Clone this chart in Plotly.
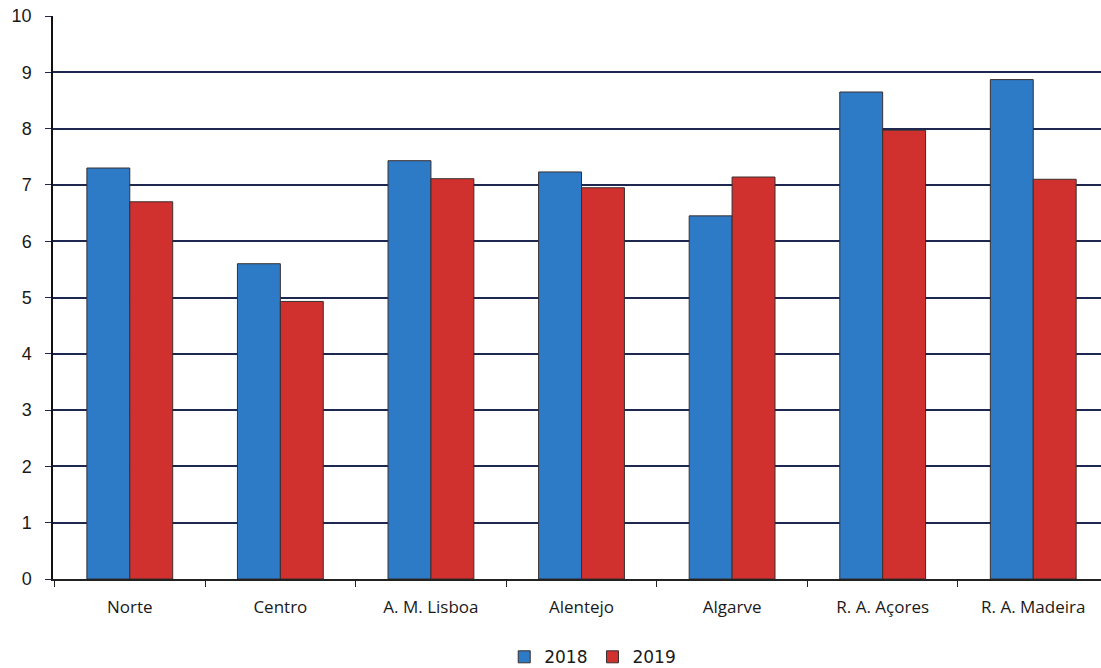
import plotly.graph_objects as go

regions = ["Norte", "Centro", "A. M. Lisboa", "Alentejo", "Algarve",
           "R. A. Açores", "R. A. Madeira"]
values_2018 = [7.3, 5.6, 7.43, 7.23, 6.45, 8.65, 8.87]
values_2019 = [6.7, 4.93, 7.11, 6.95, 7.14, 7.97, 7.1]
y_ticks = list(range(0, 11))

blue = "#2d7bc6"
red = "#d0302e"
edge = "#3a2e2e"
grid = "#1e2750"

fig = go.Figure()
fig.add_trace(go.Bar(x=regions, y=values_2018, name="2018",
                     marker=dict(color=blue, line=dict(color=edge, width=1))))
fig.add_trace(go.Bar(x=regions, y=values_2019, name="2019",
                     marker=dict(color=red, line=dict(color=edge, width=1))))

fig.update_layout(
    width=1101, height=668,
    margin=dict(l=53, r=0, t=16, b=89, autoexpand=False),
    paper_bgcolor="white", plot_bgcolor="white",
    barmode="group", bargap=0.43, bargroupgap=0,
    font=dict(family="DejaVu Sans", color="#1a1a1a"),
    legend=dict(orientation="h", x=0.515, xanchor="center", y=-0.139,
                yanchor="middle", font=dict(size=17, family="DejaVu Sans"),
                itemwidth=30, traceorder="normal", tracegroupgap=0),
    showlegend=True,
)
fig.update_xaxes(
    range=[-0.51, 6.45], automargin=False,
    tickson="boundaries", ticks="outside", ticklen=6, tickcolor="#222",
    showline=True, linecolor="#222", linewidth=1.5,
    showgrid=False, tickfont=dict(size=17, family="Open Sans"),
    ticklabelstandoff=12,
)
fig.update_yaxes(
    range=[0, 10], tickvals=y_ticks, automargin=False,
    ticks="outside", ticklen=6, tickcolor=grid,
    showline=True, linecolor="#111", linewidth=1.5,
    showgrid=True, gridcolor=grid, gridwidth=1.5,
    zeroline=False, tickfont=dict(size=18, family="Liberation Sans"),
    ticklabelstandoff=10,
)

fig.write_html("out.html")
